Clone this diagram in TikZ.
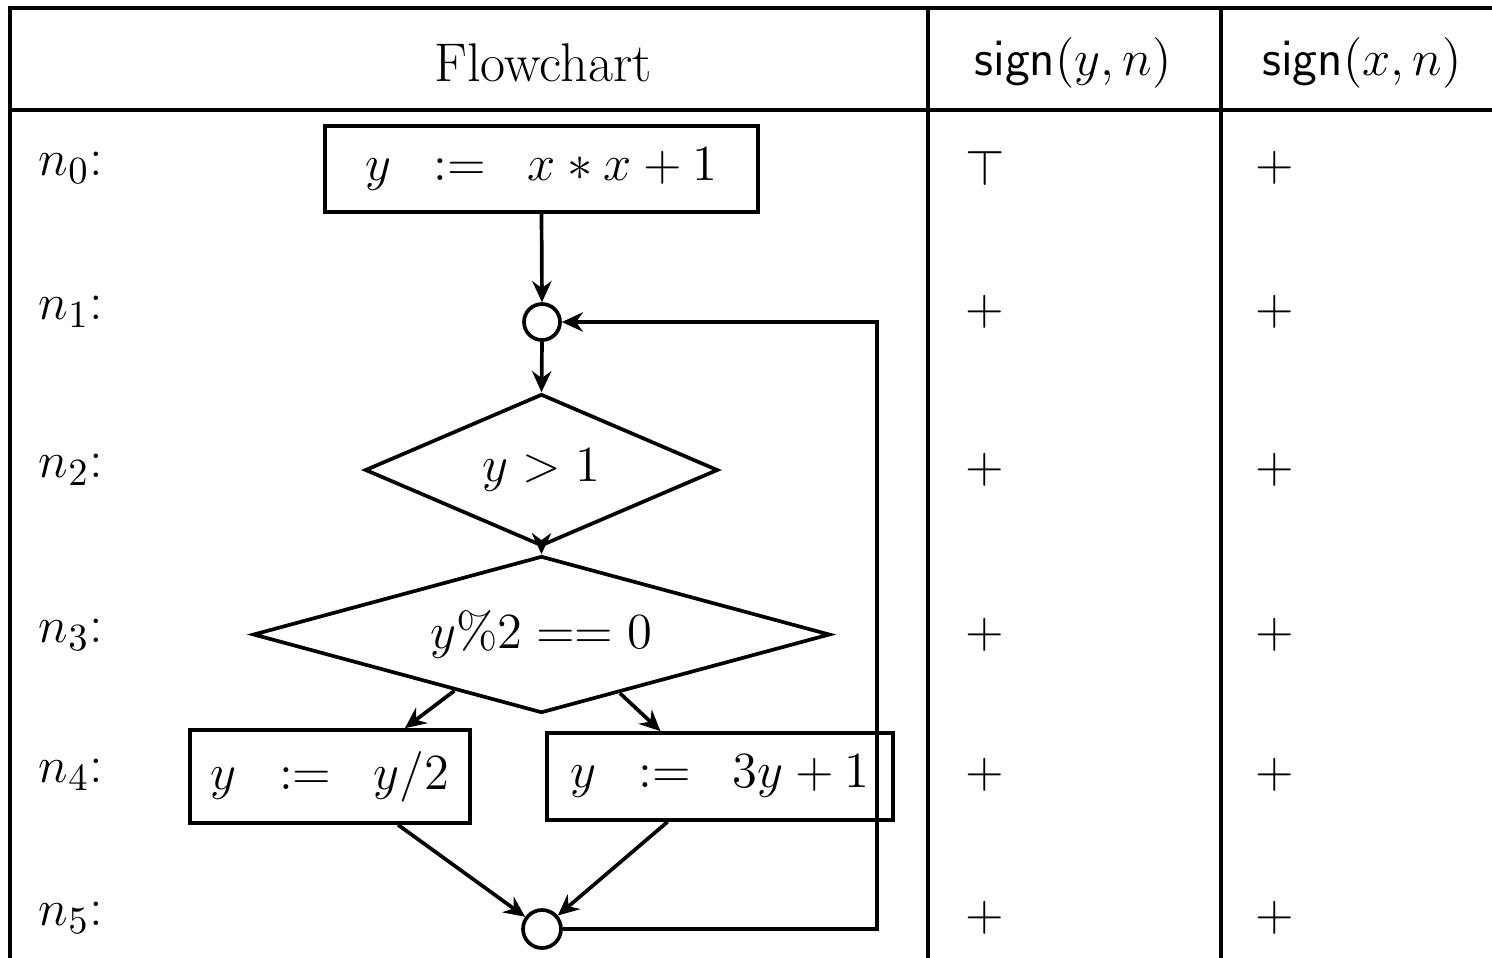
\documentclass[tikz,border=0pt]{standalone}
\usetikzlibrary{shapes.geometric,arrows.meta,calc}
\tikzset{
  every node/.style={font=\fontsize{15.5}{18}\selectfont},
  ln/.style={line width=1.05pt},
  arr/.style={line width=1.05pt,-{Stealth[length=6pt,width=5.5pt,inset=2pt]}},
  boxnode/.style={draw,line width=1.05pt,rectangle,inner sep=0pt},
  dia/.style={draw,line width=1.05pt,diamond,inner sep=0pt},
  circ/.style={draw,line width=1.05pt,circle,inner sep=0pt},
  lbl/.style={anchor=west,inner sep=0pt},
}
\begin{document}
\begin{tikzpicture}
\useasboundingbox (0,0) rectangle (14.92,-9.57);
% table
\draw[ln] (0.10,-9.70) -- (0.10,-0.08) -- (15.0,-0.08);
\draw[ln] (0.10,-1.10) -- (15.0,-1.10);
\draw[ln] (9.28,-0.08) -- (9.28,-9.70);
\draw[ln] (12.21,-0.08) -- (12.21,-9.70);
% headers
\node (hf) at (5.43,-0.63) {Flowchart};
\node (hy) at (10.73,-0.63) {$\mathsf{sign}(y,n)$};
\node (hx) at (13.62,-0.63) {$\mathsf{sign}(x,n)$};
% row labels
\node[lbl] (r0) at (0.38,-1.68) {$n_0$:};
\node[lbl] (r1) at (0.38,-3.12) {$n_1$:};
\node[lbl] (r2) at (0.38,-4.70) {$n_2$:};
\node[lbl] (r3) at (0.38,-6.35) {$n_3$:};
\node[lbl] (r4) at (0.38,-7.75) {$n_4$:};
\node[lbl] (r5) at (0.38,-9.18) {$n_5$:};
% sign columns
\node (y0) at (9.85,-1.68) {$\top$};
\node (y1) at (9.85,-3.12) {$+$};
\node (y2) at (9.85,-4.70) {$+$};
\node (y3) at (9.85,-6.35) {$+$};
\node (y4) at (9.85,-7.75) {$+$};
\node (y5) at (9.85,-9.18) {$+$};
\node (x0) at (12.75,-1.68) {$+$};
\node (x1) at (12.75,-3.12) {$+$};
\node (x2) at (12.75,-4.70) {$+$};
\node (x3) at (12.75,-6.35) {$+$};
\node (x4) at (12.75,-7.75) {$+$};
\node (x5) at (12.75,-9.18) {$+$};
% flowchart
\node[boxnode,minimum width=4.33cm,minimum height=0.86cm] (n0) at (5.415,-1.69) {$y\;\;:=\;\;x*x+1$};
\node[circ,minimum size=0.36cm] (n1) at (5.42,-3.22) {};
\node[dia,minimum width=3.53cm,minimum height=1.52cm,aspect=2.32] (n2) at (5.415,-4.70) {$y>1$};
\node[dia,minimum width=5.77cm,minimum height=1.57cm,aspect=3.67] (n3) at (5.415,-6.345) {$y\%2==0$};
\node[boxnode,minimum width=2.80cm,minimum height=0.93cm] (n4l) at (3.30,-7.765) {$y\;\;:=\;\;y/2$};
\node[boxnode,minimum width=3.46cm,minimum height=0.87cm] (n4r) at (7.20,-7.765) {$y\;\;:=\;\;3y+1$};
\node[circ,minimum size=0.38cm] (n5) at (5.42,-9.29) {};
\draw[arr] (n0.south) -- (n1.north);
\draw[arr] (n1.south) -- (n2.north);
\draw[arr] (n2.south) -- (n3.north);
\draw[arr] ($(n3.west)!0.70!(n3.south)$) -- ($(n4l.north west)!0.764!(n4l.north east)$);
\draw[arr] ($(n3.east)!0.73!(n3.south)$) -- ($(n4r.north west)!0.33!(n4r.north east)$);
\draw[arr] ($(n4l.south west)!0.74!(n4l.south east)$) -- (n5);
\draw[arr] ($(n4r.south west)!0.35!(n4r.south east)$) -- (n5);
\coordinate (c1) at (8.77,-9.29);
\coordinate (c2) at (8.77,-3.22);
\draw[arr] (n5.east) -- (c1) -- (c2) -- (n1.east);
\end{tikzpicture}
\end{document}
